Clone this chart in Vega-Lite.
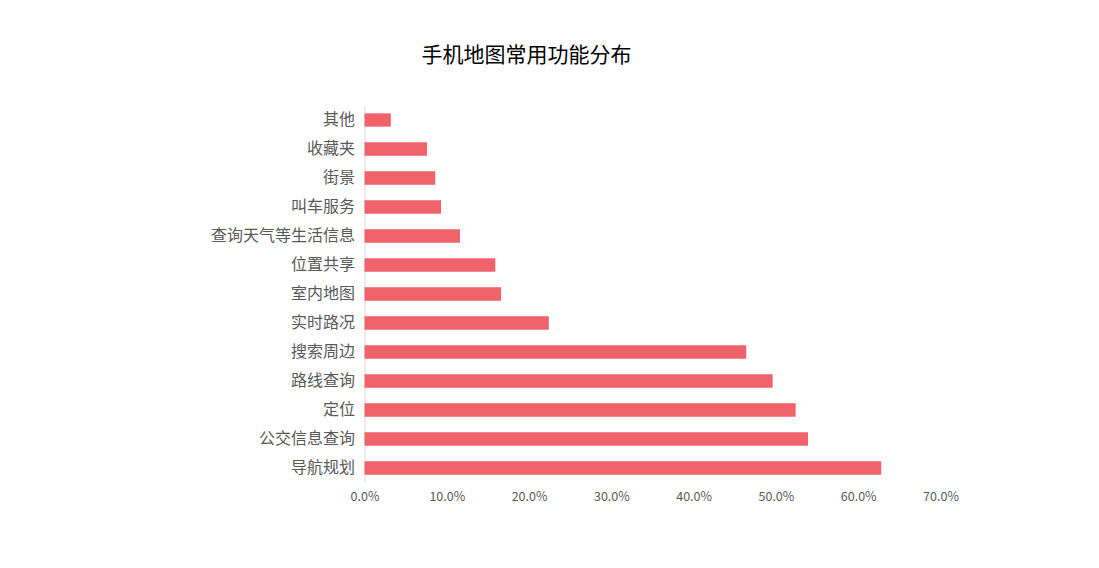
{
  "$schema": "https://vega.github.io/schema/vega-lite/v6.json",
  "autosize": {"type": "none"},
  "width": 576,
  "height": 377,
  "padding": {"left": 364.5, "top": 105.5, "right": 158.5, "bottom": 85.5},
  "background": "white",
  "title": {
    "text": "手机地图常用功能分布",
    "font": "Noto Sans CJK SC",
    "fontSize": 21,
    "fontWeight": "normal",
    "color": "#000000",
    "anchor": "start",
    "frame": "group",
    "dx": 57,
    "offset": 40
  },
  "data": {
    "values": [
      {"功能": "其他", "占比": 0.032},
      {"功能": "收藏夹", "占比": 0.076},
      {"功能": "街景", "占比": 0.086},
      {"功能": "叫车服务", "占比": 0.093},
      {"功能": "查询天气等生活信息", "占比": 0.116},
      {"功能": "位置共享", "占比": 0.159},
      {"功能": "室内地图", "占比": 0.166},
      {"功能": "实时路况", "占比": 0.224},
      {"功能": "搜索周边", "占比": 0.464},
      {"功能": "路线查询", "占比": 0.496},
      {"功能": "定位", "占比": 0.524},
      {"功能": "公交信息查询", "占比": 0.539},
      {"功能": "导航规划", "占比": 0.628}
    ]
  },
  "mark": {"type": "bar", "color": "#f1636b"},
  "encoding": {
    "y": {
      "field": "功能",
      "type": "nominal",
      "sort": null,
      "scale": {"paddingInner": 0.54, "paddingOuter": 0.27},
      "axis": {
        "title": null,
        "ticks": false,
        "domainColor": "#d9d9d9",
        "labelFont": "Noto Sans CJK SC",
        "labelFontSize": 16,
        "labelColor": "#595959",
        "labelPadding": 10
      }
    },
    "x": {
      "field": "占比",
      "type": "quantitative",
      "scale": {"domain": [0, 0.7], "nice": false},
      "axis": {
        "title": null,
        "format": ".1%",
        "values": [0, 0.1, 0.2, 0.3, 0.4, 0.5, 0.6, 0.7],
        "grid": false,
        "ticks": false,
        "domain": false,
        "labelFlush": false,
        "labelFont": "Noto Sans CJK SC",
        "labelFontSize": 12.5,
        "labelColor": "#595959",
        "labelPadding": 8
      }
    }
  },
  "config": {"view": {"stroke": null}}
}
